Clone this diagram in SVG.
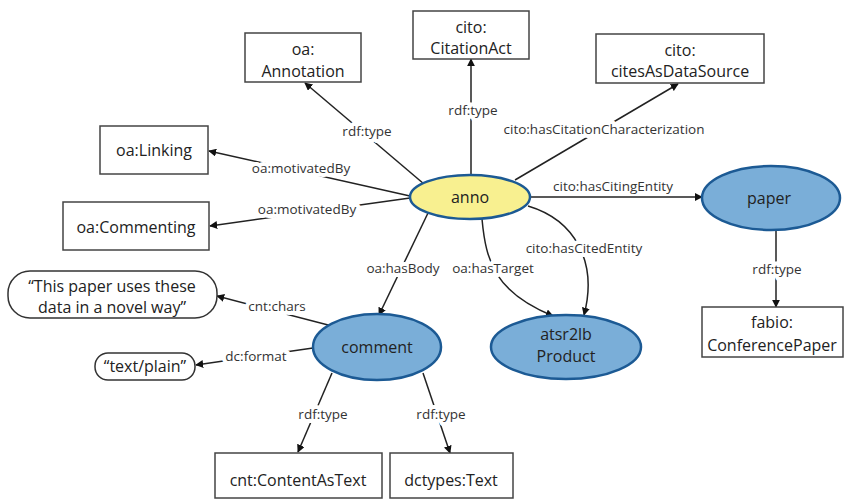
<svg xmlns="http://www.w3.org/2000/svg" width="847" height="500" viewBox="0 0 847 500">
<defs>
<marker id="arr" viewBox="0 0 10 10" refX="9" refY="5" markerWidth="8" markerHeight="8" markerUnits="userSpaceOnUse" orient="auto">
<path d="M0,0 L10,5 L0,10 z" fill="#111"/>
</marker>
<style>
.box{fill:#fff;stroke:#444;stroke-width:1.5}
.lit{fill:#fff;stroke:#333;stroke-width:1.5}
.blue{fill:#7aaed8;stroke:#1c5a94;stroke-width:2.5}
.yel{fill:#f8f090;stroke:#1c5a94;stroke-width:2.5}
.nt{font-family:"Open Sans","Liberation Sans",sans-serif;font-size:16px;fill:#222;text-anchor:middle}
.lb{font-family:"Open Sans","Liberation Sans",sans-serif;font-size:13.5px;fill:#333;text-anchor:middle;stroke:#fff;stroke-width:8;paint-order:stroke;stroke-linejoin:round}
.lb.nohalo{stroke:none}
.c{fill:none;stroke:#222;stroke-width:1.5;marker-end:url(#arr)}
</style>
</defs>
<rect width="847" height="500" fill="#fff"/>
<g id="connectors">
<line class="c" x1="424" y1="184" x2="305" y2="83"/>
<line class="c" x1="410" y1="196" x2="209" y2="151"/>
<line class="c" x1="410" y1="198" x2="210" y2="226"/>
<line class="c" x1="471" y1="175" x2="471" y2="59"/>
<line class="c" x1="515" y1="180" x2="678" y2="84"/>
<line class="c" x1="531" y1="197" x2="702" y2="197"/>
<path class="c" d="M528,206 C575,220 598,262 584,315"/>
<path class="c" d="M482,219 C486,262 495,292 553,316"/>
<line class="c" x1="428" y1="213" x2="379" y2="315"/>
<line class="c" x1="332" y1="326" x2="217" y2="296"/>
<line class="c" x1="313" y1="348" x2="196" y2="365"/>
<line class="c" x1="332" y1="373" x2="298" y2="452"/>
<line class="c" x1="423" y1="373" x2="450" y2="453"/>
<line class="c" x1="776" y1="230" x2="776" y2="307"/>
<text class="lb" x="367" y="136">rdf:type</text>
<text class="lb" x="301" y="173">oa:motivatedBy</text>
<text class="lb" x="307" y="214">oa:motivatedBy</text>
<text class="lb" x="473" y="115">rdf:type</text>
<text class="lb" x="604" y="134">cito:hasCitationCharacterization</text>
<text class="lb nohalo" x="613" y="191">cito:hasCitingEntity</text>
<text class="lb" x="584" y="253">cito:hasCitedEntity</text>
<text class="lb" x="403" y="273">oa:hasBody</text>
<text class="lb" x="493" y="273">oa:hasTarget</text>
<text class="lb" x="277" y="311">cnt:chars</text>
<text class="lb" x="256" y="361">dc:format</text>
<text class="lb" x="323" y="419">rdf:type</text>
<text class="lb" x="441" y="419">rdf:type</text>
<text class="lb" x="777" y="274">rdf:type</text>
</g>
<g id="anno"><ellipse class="yel" cx="470" cy="197" rx="60" ry="22"/><text class="nt" x="470" y="203">anno</text></g>
<g id="paper"><ellipse class="blue" cx="771" cy="198" rx="69" ry="32"/><text class="nt" x="769" y="204">paper</text></g>
<g id="comment"><ellipse class="blue" cx="377" cy="347" rx="64" ry="33"/><text class="nt" x="377" y="353">comment</text></g>
<g id="product"><ellipse class="blue" cx="566" cy="347" rx="75" ry="32"/><text class="nt" x="566" y="340">atsr2lb</text><text class="nt" x="566" y="362">Product</text></g>
<g id="oaAnnotation"><rect class="box" x="245" y="33" width="116" height="49"/><text class="nt" x="303" y="55">oa:</text><text class="nt" x="303" y="77">Annotation</text></g>
<g id="citationAct"><rect class="box" x="413" y="11" width="116" height="48"/><text class="nt" x="471" y="33">cito:</text><text class="nt" x="471" y="54">CitationAct</text></g>
<g id="citesAsDataSource"><rect class="box" x="596" y="34" width="168" height="49"/><text class="nt" x="680" y="56">cito:</text><text class="nt" x="680" y="77">citesAsDataSource</text></g>
<g id="oaLinking"><rect class="box" x="100" y="126" width="108" height="48"/><text class="nt" x="154" y="156">oa:Linking</text></g>
<g id="oaCommenting"><rect class="box" x="63" y="202" width="146" height="48"/><text class="nt" x="136" y="233">oa:Commenting</text></g>
<g id="charsLiteral"><rect class="lit" x="8" y="271" width="209" height="47" rx="22"/><text class="nt" x="112" y="292">“This paper uses these</text><text class="nt" x="112" y="313">data in a novel way”</text></g>
<g id="formatLiteral"><rect class="lit" x="95" y="353" width="100" height="27" rx="13"/><text class="nt" x="145" y="372">“text/plain”</text></g>
<g id="contentAsText"><rect class="box" x="215" y="453" width="167" height="45"/><text class="nt" x="298" y="486">cnt:ContentAsText</text></g>
<g id="dctypesText"><rect class="box" x="390" y="453" width="123" height="45"/><text class="nt" x="451" y="486">dctypes:Text</text></g>
<g id="conferencePaper"><rect class="box" x="702" y="307" width="141" height="50"/><text class="nt" x="772" y="328">fabio:</text><text class="nt" x="772" y="351">ConferencePaper</text></g>
</svg>
